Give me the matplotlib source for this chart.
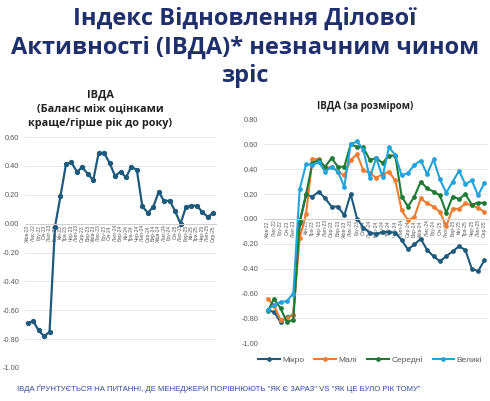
import matplotlib
matplotlib.use("Agg")
import matplotlib.pyplot as plt
from matplotlib.ticker import FixedLocator, FuncFormatter

months = ["Жов-22", "Лис-22", "Гру-22", "Січ-23", "Лют-23", "Бер-23", "Кві-23", "Тра-23",
          "Чер-23", "Лип-23", "Сер-23", "Вер-23", "Жов-23", "Лис-23", "Гру-23", "Січ-24",
          "Лют-24", "Бер-24", "Кві-24", "Тра-24", "Чер-24", "Лип-24", "Сер-24", "Вер-24",
          "Жов-24", "Лис-24", "Гру-24", "Січ-25", "Лют-25", "Бер-25", "Кві-25", "Тра-25",
          "Чер-25", "Лип-25", "Сер-25"]

ivda_total = [-0.69, -0.675, -0.74, -0.78, -0.75, -0.02, 0.19, 0.41, 0.425, 0.36, 0.39, 0.345,
              0.30, 0.49, 0.49, 0.42, 0.33, 0.36, 0.32, 0.395, 0.37, 0.12, 0.075, 0.115, 0.22,
              0.155, 0.16, 0.087, 0.00, 0.115, 0.124, 0.124, 0.08, 0.046, 0.076]

micro = [-0.73, -0.75, -0.83, -0.79, -0.77, -0.03, 0.19, 0.18, 0.22, 0.165, 0.10, 0.10, 0.03,
         0.20, 0.003, -0.07, -0.11, -0.12, -0.105, -0.105, -0.11, -0.17, -0.245, -0.205, -0.16,
         -0.25, -0.30, -0.34, -0.30, -0.26, -0.22, -0.25, -0.40, -0.42, -0.33]
small = [-0.64, -0.70, -0.81, -0.80, -0.77, -0.15, 0.04, 0.48, 0.48, 0.41, 0.42, 0.38, 0.35,
         0.475, 0.52, 0.39, 0.37, 0.33, 0.36, 0.38, 0.31, 0.07, -0.01, 0.017, 0.165, 0.125,
         0.10, 0.057, -0.06, 0.084, 0.08, 0.125, 0.11, 0.09, 0.057]
medium = [-0.74, -0.64, -0.72, -0.83, -0.81, -0.02, 0.20, 0.45, 0.475, 0.42, 0.49, 0.42, 0.42,
          0.60, 0.58, 0.575, 0.475, 0.49, 0.45, 0.51, 0.51, 0.18, 0.10, 0.18, 0.30, 0.246,
          0.22, 0.19, 0.05, 0.18, 0.16, 0.20, 0.116, 0.13, 0.13]
large = [-0.73, -0.69, -0.67, -0.66, -0.60, 0.24, 0.44, 0.435, 0.456, 0.38, 0.42, 0.38, 0.26,
         0.60, 0.624, 0.556, 0.33, 0.49, 0.34, 0.575, 0.516, 0.35, 0.37, 0.435, 0.47, 0.36,
         0.48, 0.32, 0.21, 0.30, 0.386, 0.28, 0.31, 0.19, 0.29]

series_names = ["Мікро", "Малі", "Середні", "Великі"]
series_values = [micro, small, medium, large]
series_colors = ["#1d5a7c", "#ed7d31", "#1f7a34", "#21a3dc"]

title_text = "Індекс Відновлення Ділової\nАктивності (ІВДА)* незначним чином\nзріс"
left_title = "ІВДА\n(Баланс між оцінками\nкраще/гірше рік до року)"
right_title = "ІВДА (за розміром)"
footer = 'ІВДА ҐРУНТУЄТЬСЯ НА ПИТАННІ, ДЕ МЕНЕДЖЕРИ ПОРІВНЮЮТЬ "ЯК Є ЗАРАЗ" VS "ЯК ЦЕ БУЛО РІК ТОМУ"'

W, H = 490, 401
fig = plt.figure(figsize=(W / 100, H / 100), dpi=100)
fig.patch.set_facecolor("white")

navy = "#1f2f6e"
narrow = ["Liberation Sans Narrow", "Liberation Sans", "DejaVu Sans"]

fig.text(0.5, 1 - 7 / H, title_text, ha="center", va="top", fontsize=17,
         fontweight="bold", color=navy, family=["Open Sans", "DejaVu Sans"],
         linespacing=1.25)


def axes_px(x0, y0, x1, y1):
    return fig.add_axes([x0 / W, 1 - y1 / H, (x1 - x0) / W, (y1 - y0) / H])


def style(ax, ticks, ymin, ymax):
    ax.set_ylim(ymin, ymax)
    ax.yaxis.set_major_locator(FixedLocator(ticks))
    ax.yaxis.set_major_formatter(FuncFormatter(lambda v, p: f"{v:.2f}"))
    ax.grid(axis="y", color="#e6e6e6", linewidth=0.7)
    ax.set_axisbelow(True)
    for s in ["top", "right", "left"]:
        ax.spines[s].set_visible(False)
    ax.spines["bottom"].set_position(("data", 0))
    ax.spines["bottom"].set_color("#d0d0d0")
    ax.spines["bottom"].set_linewidth(0.7)
    ax.tick_params(axis="y", length=0, labelsize=5.3, labelcolor="#595959", pad=4)
    ax.tick_params(axis="x", length=0, labelsize=3.6, labelcolor="#595959", pad=1,
                   labelrotation=90)
    for lab in ax.get_yticklabels():
        lab.set_family(narrow)
    x = list(range(len(months)))
    ax.set_xticks(x)
    ax.set_xticklabels(months, family=narrow)
    ax.set_xlim(-0.5, len(months) - 0.5)


# Left chart
axL = axes_px(25, 137, 216, 368)
style(axL, [-1.0, -0.8, -0.6, -0.4, -0.2, 0.0, 0.2, 0.4, 0.6], -1.0, 0.6)
axL.plot(range(len(months)), ivda_total, color="#1d5a7c", linewidth=1.6,
         marker="o", markersize=2.8)
fig.text(100 / W, 1 - 89 / H, left_title, ha="center", va="top", fontsize=7.8,
         fontweight="bold", color="#222222", family=["Open Sans", "DejaVu Sans"],
         linespacing=1.42)

# Right chart
axR = axes_px(264, 119.5, 488, 343.3)
style(axR, [-1.0, -0.8, -0.6, -0.4, -0.2, 0.0, 0.2, 0.4, 0.6, 0.8], -1.0, 0.8)
axR.set_xlim(-0.6, len(months) - 0.45)
for name, vals, col in zip(series_names, series_values, series_colors):
    axR.plot(range(len(months)), vals, color=col, linewidth=1.5, marker="o",
             markersize=2.4, label=name)
fig.text(365 / W, 1 - 106 / H, right_title, ha="center", va="center", fontsize=7,
         fontweight="bold", color="#222222", family=["Open Sans", "DejaVu Sans"])
leg = fig.legend(loc="center", bbox_to_anchor=(370 / W, 1 - 360 / H), ncol=4,
                 frameon=False, prop={"family": narrow, "size": 6},
                 handlelength=2.6, columnspacing=1.2, handletextpad=0.3)
for t in leg.get_texts():
    t.set_color("#595959")

fig.text(17 / W, 1 - 389 / H, footer, ha="left", va="center", fontsize=5.6,
         color="#3348a0", family=narrow)

fig.savefig("out.png", dpi=100, facecolor="white")
